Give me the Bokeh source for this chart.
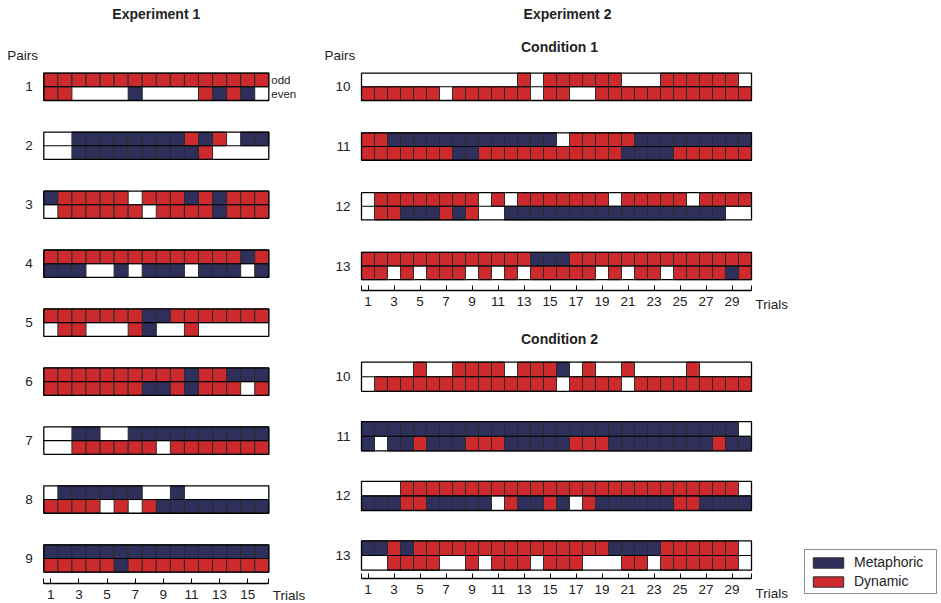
from bokeh.plotting import figure
from bokeh.models import (Range1d, LinearAxis, FixedTicker, ColumnDataSource,
                          Legend, LegendItem)
from bokeh.core.properties import value
from bokeh.embed import file_html
from bokeh.resources import INLINE

# Gesture produced on each trial, one string per pair and row (odd / even
# participant): "M" metaphoric, "D" dynamic, "." no gesture.
exp1_pairs = [1, 2, 3, 4, 5, 6, 7, 8, 9]
exp1_odd = [
    "DDDDDDDDDDDDDDDD",
    "..MMMMMMMMDMD.MM",
    "MDDDDD.DDDMDMDDD",
    "DDDDDDDDDDDDDDMD",
    "DDDDDDDMMDDDDDDD",
    "DDDDDDDDDDMDDMMM",
    "..MM..MMMMMMMMMM",
    ".MMMMMM..M......",
    "MMMMMMMMMMMMMMMM",
]
exp1_even = [
    "DD....M....DMDM.",
    "..MMMMMMMMMD....",
    ".DDDDDD.DDDDMDDD",
    "MMM..M.MMM.MMM.M",
    ".DD...DM..D.....",
    "DDDDDDDMMDMDDD.D",
    "..DDDDDD.DDDDDDD",
    "DDDD.D.DMMMMMMMM",
    "DDDDDMDDDDDDDDDD",
]

cond1_pairs = [10, 11, 12, 13]
cond1_odd = [
    "............D.DDDDDD...DDDDDD.",
    "DDMMMMMMMMMMMMM.DDDDDMMMMMMMMM",
    ".DDDDDDDD.D.DDDDDDD.DDDDD.DDDD",
    "DDDDDDDDDDDDDMMMDDDDDDDDDDDDDD",
]
cond1_even = [
    "DDDDDD.DDDDDD.DD..DDDDDDDDDDDD",
    "DDDDDDDMMDDDDDDDDDDDMMMMDDDDDD",
    ".DDMMMDMD..MMMMMMMMMMMMMMMMM..",
    "DD.D.DDD.D.D.DDDDD.D.DD.DDDDMD",
]

cond2_pairs = [10, 11, 12, 13]
cond2_odd = [
    "....D..DDDD.DDDM.D..D....D....",
    "MMMMMMMMMMMMMMMMMMMMMMMMMMMMM.",
    "...DDDDDDDDDDDDDDDDDDDDDDDDDD.",
    "MMDMDDDDDDDDDDDDDDDMMMMDDDDDD.",
]
cond2_even = [
    ".DDDDDDDDDDDDDD.DDDD.DDDDDDDDD",
    "M.MMDMMMDDDMMMMMDDDMMMMMMMMDMM",
    "MMMDDMMMMM.DMMDM.DMMMMMMDDMMMM",
    "..DDDD..D.DDD.DDD...DD.DDDDDD.",
]

exp1_ticks = [1, 3, 5, 7, 9, 11, 13, 15]
exp2_ticks = [1, 3, 5, 7, 9, 11, 13, 15, 17, 19, 21, 23, 25, 27, 29]
kinds = ["M", "D"]
kind_labels = ["Metaphoric", "Dynamic"]
row_labels = ["odd", "even"]

W, H = 941, 603
FONT = value("Liberation Sans")
INK = "#222222"
COLORS = {"M": "#2e2f5b", "D": "#cd2a2e"}
EDGE = "#2b2b2b"


def pixel_range(p0, v0, p1, v1, size, flip=False):
    """Range whose values v0 / v1 fall on canvas pixels p0 / p1."""
    k = (p1 - p0) / (v1 - v0)
    lo = v0 - p0 / k
    hi = v0 + (size - p0) / k
    rng = Range1d(start=hi, end=lo) if flip else Range1d(start=lo, end=hi)
    return rng, k


# one shared canvas; every panel gets its own pair of ranges
x_exp1, kx1 = pixel_range(43.3, 0.5, 268.3, 16.5, W)
x_exp2, kx2 = pixel_range(361.0, 0.5, 751.0, 30.5, W)
y_exp1, ky1 = pixel_range(86.3, 1, 558.0, 9, H, flip=True)
y_c1, kyc1 = pixel_range(86.3, 10, 265.5, 13, H, flip=True)
y_c2, kyc2 = pixel_range(376.2, 10, 555.0, 13, H, flip=True)

p = figure(width=W, height=H, x_range=x_exp1, y_range=y_exp1,
           x_axis_type=None, y_axis_type=None, min_border=0,
           output_backend="svg", toolbar_location=None)
p.outline_line_color = None
p.background_fill_color = "white"
p.border_fill_color = "white"
p.extra_x_ranges = {"exp2": x_exp2}
p.extra_y_ranges = {"cond1": y_c1, "cond2": y_c2}

panels = [
    dict(pairs=exp1_pairs, odd=exp1_odd, even=exp1_even, xn="default", yn="default",
         ky=ky1, half=13.7, axis_px=583.0, y0px=86.3, y_first=1,
         ticks=exp1_ticks, trials_dy=12),
    dict(pairs=cond1_pairs, odd=cond1_odd, even=cond1_even, xn="exp2", yn="cond1",
         ky=kyc1, half=13.7, axis_px=290.0, y0px=86.3, y_first=10,
         ticks=exp2_ticks, trials_dy=14),
    dict(pairs=cond2_pairs, odd=cond2_odd, even=cond2_even, xn="exp2", yn="cond2",
         ky=kyc2, half=14.6, axis_px=578.0, y0px=376.2, y_first=10,
         ticks=exp2_ticks, trials_dy=15),
]

text_kw = dict(text_font=FONT, text_color=INK, text_baseline="middle")
legend_renderers = {}

for i, pn in enumerate(panels):
    xn, yn = pn["xn"], pn["yn"]
    h = pn["half"] / pn["ky"]
    n_trials = len(pn["odd"][0])
    right_edge = n_trials + 0.5

    # coloured trial cells
    for kind in kinds:
        cells = dict(left=[], right=[], top=[], bottom=[])
        for pair, odd_row, even_row in zip(pn["pairs"], pn["odd"], pn["even"]):
            for row_idx, row in enumerate((odd_row, even_row)):
                y_top = pair - h if row_idx == 0 else pair
                for t, code in enumerate(row, start=1):
                    if code == kind:
                        cells["left"].append(t - 0.5)
                        cells["right"].append(t + 0.5)
                        cells["top"].append(y_top)
                        cells["bottom"].append(y_top + h)
        r = p.quad(source=ColumnDataSource(cells), fill_color=COLORS[kind],
                   line_color=EDGE, line_width=1,
                   x_range_name=xn, y_range_name=yn)
        if i == 0:
            legend_renderers[kind] = r

    # outline of each pair block and the divider between the two rows
    pairs = pn["pairs"]
    p.quad(left=[0.5] * len(pairs), right=[right_edge] * len(pairs),
           top=[q - h for q in pairs], bottom=[q + h for q in pairs],
           fill_color=None, line_color="black", line_width=1.3,
           x_range_name=xn, y_range_name=yn)
    p.segment(x0=[0.5] * len(pairs), x1=[right_edge] * len(pairs),
              y0=pairs, y1=pairs, line_color="black", line_width=1.1,
              x_range_name=xn, y_range_name=yn)

    # pair numbers
    p.text(x=[0.5] * len(pairs), y=pairs, text=[str(q) for q in pairs],
           x_offset=-11, text_align="right", text_font_size="13.5px",
           x_range_name=xn, y_range_name=yn, **text_kw)

    # trial axis
    axis_loc = pn["y_first"] + (pn["axis_px"] - pn["y0px"]) / pn["ky"]
    ax = LinearAxis(fixed_location=axis_loc, x_range_name=xn, y_range_name=yn,
                    bounds=(0.5, right_edge),
                    ticker=FixedTicker(ticks=pn["ticks"], minor_ticks=[0.5, right_edge]))
    ax.axis_line_color = "black"
    ax.axis_line_width = 1.4
    ax.major_tick_in = 5
    ax.major_tick_out = 0
    ax.minor_tick_in = 5
    ax.minor_tick_out = 0
    ax.major_tick_line_color = "black"
    ax.minor_tick_line_color = "black"
    ax.major_label_standoff = 6
    ax.major_label_text_font = "Liberation Sans"
    ax.major_label_text_font_size = "13.5px"
    ax.major_label_text_color = INK
    p.add_layout(ax, "below")
    p.text(x=[right_edge], y=[axis_loc], text=["Trials"], x_offset=4,
           y_offset=pn["trials_dy"], text_align="left", text_font_size="13.5px",
           x_range_name=xn, y_range_name=yn, **text_kw)

# row names next to the first pair
h1 = 13.7 / ky1
p.text(x=[16.5, 16.5], y=[1 - h1 / 2, 1 + h1 / 2], text=row_labels,
       x_offset=2.5, text_align="left", text_font_size="11.5px", **text_kw)

# headings
p.text(x=[0.5], y=[1], text=["Pairs"], x_offset=-36.5, y_offset=-31,
       text_align="left", text_font_size="13.5px", **text_kw)
p.text(x=[0.5], y=[10], text=["Pairs"], x_offset=-37, y_offset=-31,
       text_align="left", text_font_size="13.5px",
       x_range_name="exp2", y_range_name="cond1", **text_kw)
p.text(x=[8.5], y=[1], text=["Experiment 1"], y_offset=-73,
       text_align="center", text_font_size="14px", text_font_style="bold", **text_kw)
p.text(x=[15.5], y=[10], text=["Experiment 2"], x_offset=11, y_offset=-73,
       text_align="center", text_font_size="14px", text_font_style="bold",
       x_range_name="exp2", y_range_name="cond1", **text_kw)
p.text(x=[15.5], y=[10], text=["Condition 1"], x_offset=3, y_offset=-39.6,
       text_align="center", text_font_size="14px", text_font_style="bold",
       x_range_name="exp2", y_range_name="cond1", **text_kw)
p.text(x=[15.5], y=[10], text=["Condition 2"], x_offset=3, y_offset=-38,
       text_align="center", text_font_size="14px", text_font_style="bold",
       x_range_name="exp2", y_range_name="cond2", **text_kw)

legend = Legend(
    items=[LegendItem(label=lab, renderers=[legend_renderers[k]])
           for k, lab in zip(kinds, kind_labels)],
    location=(804, 9),
)
legend.border_line_color = "#222222"
legend.border_line_width = 1
legend.background_fill_color = "white"
legend.background_fill_alpha = 1
legend.label_text_font = "Liberation Sans"
legend.label_text_font_size = "14px"
legend.label_text_color = INK
legend.glyph_width = 38
legend.glyph_height = 13
legend.label_height = 13
legend.label_width = 78
legend.label_standoff = 7
legend.padding = 4
legend.spacing = 3
legend.margin = 0
p.add_layout(legend)

open("out.html", "w").write(file_html(p, INLINE))
